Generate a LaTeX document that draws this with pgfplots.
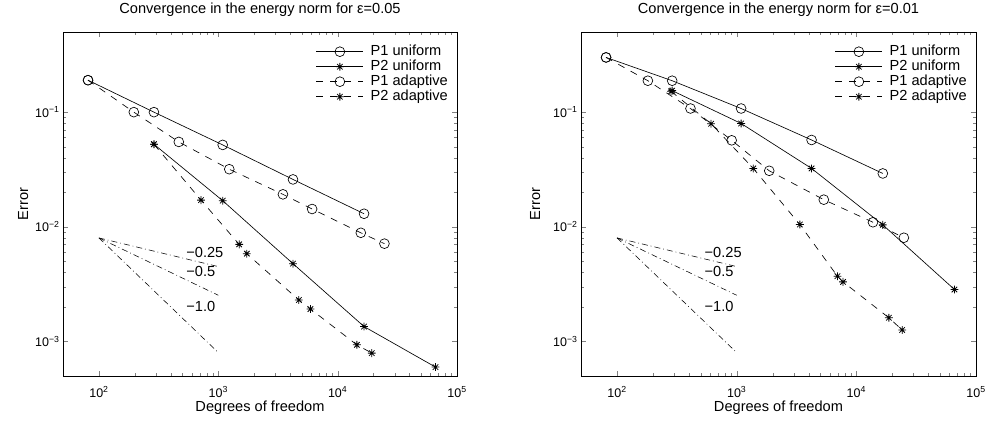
\documentclass[border=0pt]{standalone}
\usepackage{fontspec}
\setmainfont{Liberation Sans}
\usepackage{pgfplots}
\pgfplotsset{compat=1.18}

% MATLAB style '*' marker: plus and cross on top of each other
\pgfdeclareplotmark{mstar}{%
  \pgfpathmoveto{\pgfqpoint{-\pgfplotmarksize}{0pt}}%
  \pgfpathlineto{\pgfqpoint{\pgfplotmarksize}{0pt}}%
  \pgfpathmoveto{\pgfqpoint{0pt}{-\pgfplotmarksize}}%
  \pgfpathlineto{\pgfqpoint{0pt}{\pgfplotmarksize}}%
  \pgfpathmoveto{\pgfqpoint{-0.707\pgfplotmarksize}{-0.707\pgfplotmarksize}}%
  \pgfpathlineto{\pgfqpoint{0.707\pgfplotmarksize}{0.707\pgfplotmarksize}}%
  \pgfpathmoveto{\pgfqpoint{-0.707\pgfplotmarksize}{0.707\pgfplotmarksize}}%
  \pgfpathlineto{\pgfqpoint{0.707\pgfplotmarksize}{-0.707\pgfplotmarksize}}%
  \pgfusepathqstroke}

\pgfplotsset{
  legend image code/.code={\draw[mark repeat=2, mark phase=2, #1]
    plot coordinates {(0bp,0bp) (23.5bp,0bp) (47bp,0bp)};},
  scale only axis,
  height=344bp,
  xmin=50, xmax=1e5, ymin=5e-4, ymax=0.5,
  axis line style={line width=0.9bp},
  major tick length=5bp, minor tick length=3bp,
  tick align=inside,
  xtick={1e2,1e3,1e4,1e5},
  xticklabels={10\textsuperscript{2},10\textsuperscript{3},10\textsuperscript{4},10\textsuperscript{5}},
  ytick={1e-3,1e-2,1e-1},
  yticklabels={10\textsuperscript{−3},10\textsuperscript{−2},10\textsuperscript{−1}},
  ticklabel style={font=\fontsize{12.5bp}{14bp}\selectfont},
  xticklabel style={anchor=base, yshift=-21bp},
  title style={font=\fontsize{14.6bp}{16bp}\selectfont, at={(axis description cs:0.5,1)}, anchor=base, yshift=13bp},
  xlabel style={font=\fontsize{14.6bp}{16bp}\selectfont, at={(axis description cs:0.5,0)}, anchor=base, yshift=-35bp},
  xlabel={Degrees of freedom},
  ylabel={Error},
  legend style={draw=none, fill=none, inner sep=0pt, at={(axis description cs:1,1)},
    anchor=north east, xshift=-9bp, yshift=-13bp,
    font=\fontsize{14.6bp}{16bp}\selectfont,
    nodes={inner sep=0pt, text height=10bp, text depth=3bp},
    row sep=2bp, column sep=7bp},
  legend cell align=left,
}

\tikzset{
  unif1/.style={black, line width=0.65bp, solid, mark=o, mark size=4.9bp, mark options={solid, fill=white}},
  unif2/.style={black, line width=0.65bp, solid, mark=mstar, mark size=3.9bp, mark options={solid, line width=0.8bp}},
  adap1/.style={black, line width=0.65bp, dash pattern=on 7bp off 7bp, mark=o, mark size=4.9bp, mark options={solid}},
  adap2/.style={black, line width=0.65bp, dash pattern=on 7bp off 7bp, mark=mstar, mark size=3.9bp, mark options={solid, line width=0.8bp}},
  slope/.style={black, line width=0.55bp, dash pattern=on 6bp off 3bp on 0.8bp off 3bp},
  slopelabel/.style={anchor=base west, font=\fontsize{14.6bp}{16bp}\selectfont},
}

\begin{document}
\begin{tikzpicture}
\path[use as bounding box] (0,0) rectangle (989bp,427bp);

% left: epsilon = 0.05
\begin{loglogaxis}[at={(63bp,51bp)}, anchor=south west, width=394bp,
  title={Convergence in the energy norm for ε=0.05},
  ylabel style={font=\fontsize{14.6bp}{16bp}\selectfont, at={(axis description cs:0,0.5)}, anchor=base, yshift=35bp}]
\addplot[unif1] coordinates {(81,0.19) (289,0.1) (1089,0.0518) (4225,0.0259) (16641,0.0130)};
\addplot[unif2] coordinates {(289,0.0525) (1089,0.0169) (4225,0.00477) (16641,0.00135) (66049,0.000598)};
\addplot[adap1] coordinates {(81,0.19) (196,0.1) (467,0.055) (1236,0.0318) (3480,0.0192) (6110,0.0143) (15630,0.00887) (24660,0.00713)};
\addplot[adap2] coordinates {(289,0.0525) (717,0.0171) (1496,0.00703) (1733,0.00583) (4730,0.0023) (5915,0.00192) (14490,0.000935) (19320,0.000792)};
\legend{P1 uniform, P2 uniform, P1 adaptive, P2 adaptive}
\addplot[slope, forget plot] coordinates {(100,0.008) (1000,0.0045)};
\addplot[slope, forget plot] coordinates {(100,0.008) (1000,0.00253)};
\addplot[slope, forget plot] coordinates {(100,0.008) (1000,0.0008)};
\node[slopelabel] at (axis cs:505,0.00538) {−0.25};
\node[slopelabel] at (axis cs:505,0.00371) {−0.5};
\node[slopelabel] at (axis cs:505,0.00182) {−1.0};
\end{loglogaxis}

% right: epsilon = 0.01
\begin{loglogaxis}[at={(581bp,51bp)}, anchor=south west, width=395bp,
  title={Convergence in the energy norm for ε=0.01},
  ylabel style={font=\fontsize{14.6bp}{16bp}\selectfont, at={(axis description cs:0,0.5)}, anchor=base, yshift=41bp}]
\addplot[unif1] coordinates {(81,0.300) (289,0.188) (1089,0.1076) (4225,0.0572) (16641,0.0292)};
\addplot[unif2] coordinates {(289,0.154) (1089,0.0797) (4225,0.0323) (16641,0.0104) (66049,0.00284)};
\addplot[adap1] coordinates {(81,0.300) (181,0.188) (411,0.1076) (908,0.0568) (1871,0.0308) (5345,0.01725) (13770,0.01096) (24950,0.00803)};
\addplot[adap2] coordinates {(283,0.152) (611,0.0792) (1377,0.0323) (3372,0.01047) (6950,0.00371) (7745,0.00331) (18700,0.00161) (24150,0.00126)};
\legend{P1 uniform, P2 uniform, P1 adaptive, P2 adaptive}
\addplot[slope, forget plot] coordinates {(100,0.008) (1000,0.0045)};
\addplot[slope, forget plot] coordinates {(100,0.008) (1000,0.00253)};
\addplot[slope, forget plot] coordinates {(100,0.008) (1000,0.0008)};
\node[slopelabel] at (axis cs:505,0.00538) {−0.25};
\node[slopelabel] at (axis cs:505,0.00371) {−0.5};
\node[slopelabel] at (axis cs:505,0.00182) {−1.0};
\end{loglogaxis}
\end{tikzpicture}
\end{document}
